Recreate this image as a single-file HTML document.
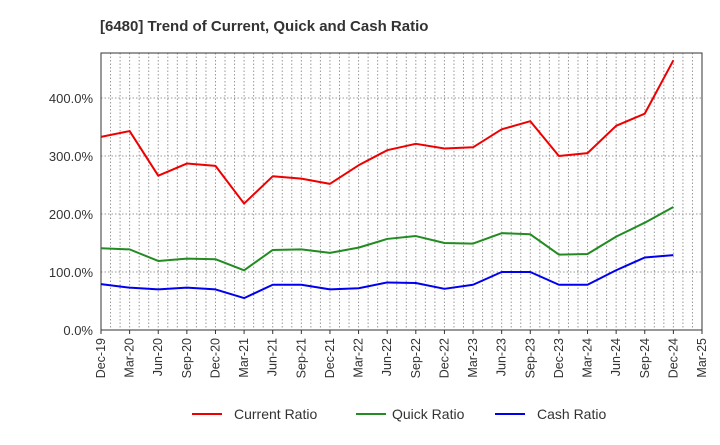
<!DOCTYPE html>
<html><head><meta charset="utf-8"><style>
body{margin:0;background:#fff;font-family:"Liberation Sans",sans-serif}
</style></head><body>
<svg id="c" width="720" height="440" font-family="Liberation Sans, sans-serif">
<text x="100" y="31" font-size="15" font-weight="bold" fill="#333">[6480]  Trend of Current, Quick and Cash Ratio</text>
<g id="grid"></g><g id="axes"></g><g id="series"></g>
<g font-size="14" fill="#333">
<line x1="192" y1="414" x2="222" y2="414" stroke="#e00" stroke-width="2"/><text x="234" y="419">Current Ratio</text>
<line x1="356" y1="414" x2="386" y2="414" stroke="#228b22" stroke-width="2"/><text x="392" y="419">Quick Ratio</text>
<line x1="495" y1="414" x2="525" y2="414" stroke="#00e" stroke-width="2"/><text x="537" y="419">Cash Ratio</text>
</g>
</svg>
<script>
const xLabels=["Dec-19","Mar-20","Jun-20","Sep-20","Dec-20","Mar-21","Jun-21","Sep-21","Dec-21","Mar-22","Jun-22","Sep-22","Dec-22","Mar-23","Jun-23","Sep-23","Dec-23","Mar-24","Jun-24","Sep-24","Dec-24","Mar-25"];
const yTicks=[0,100,200,300,400];
const current=[333,343,266,287,283,218,265,261,252,284,310,321,313,315,346,360,300,305,352,373,465];
const quick=[141,139,119,123,122,103,138,139,133,142,157,162,150,149,167,165,130,131,161,185,212];
const cash=[79,73,70,73,70,55,78,78,70,72,82,81,71,78,100,100,78,78,103,125,129];
const L=101,R=702,T=53,B=330;
const ns="http://www.w3.org/2000/svg";
const x=i=>L+(R-L)*i/21;
const y=v=>B-v*0.58;
function mk(t,a,p){const e=document.createElementNS(ns,t);for(const k in a)e.setAttribute(k,a[k]);p.appendChild(e);return e;}
const g=document.getElementById('grid'),ax=document.getElementById('axes'),s=document.getElementById('series');
for(let m=1;m<63;m++){const xx=L+(R-L)*m/63;const l=mk('line',{x1:xx,x2:xx,y1:T,y2:B,stroke:'#999','stroke-dasharray':'1.5,2','stroke-width':1},g);

}
yTicks.forEach(v=>{if(v>0){const l=mk('line',{x1:L,x2:R,y1:y(v),y2:y(v),stroke:'#999','stroke-dasharray':'1.5,2'},g);

}
const t=mk('text',{x:L-8,y:y(v)+5,'text-anchor':'end','font-size':13,fill:'#333'},ax);t.textContent=v.toFixed(1)+'%';

});
mk('rect',{x:L,y:T,width:R-L,height:B-T,fill:'none',stroke:'#333'},ax);
xLabels.forEach((lb,i)=>{mk('line',{x1:x(i),x2:x(i),y1:B,y2:B+4,stroke:'#333'},ax);
const t=mk('text',{transform:`translate(${x(i)+4},${B+8}) rotate(-90)`,'text-anchor':'end','font-size':12.5,fill:'#333'},ax);t.textContent=lb;

});
[[current,'#e00','current-ratio-line'],[quick,'#228b22','quick-ratio-line'],[cash,'#00e','cash-ratio-line']].forEach(([d,c,n])=>{
const p=mk('polyline',{points:d.map((v,i)=>x(i)+','+y(v)).join(' '),fill:'none',stroke:c,'stroke-width':2,'stroke-linejoin':'round'},s);

});
</script>
</body></html>
